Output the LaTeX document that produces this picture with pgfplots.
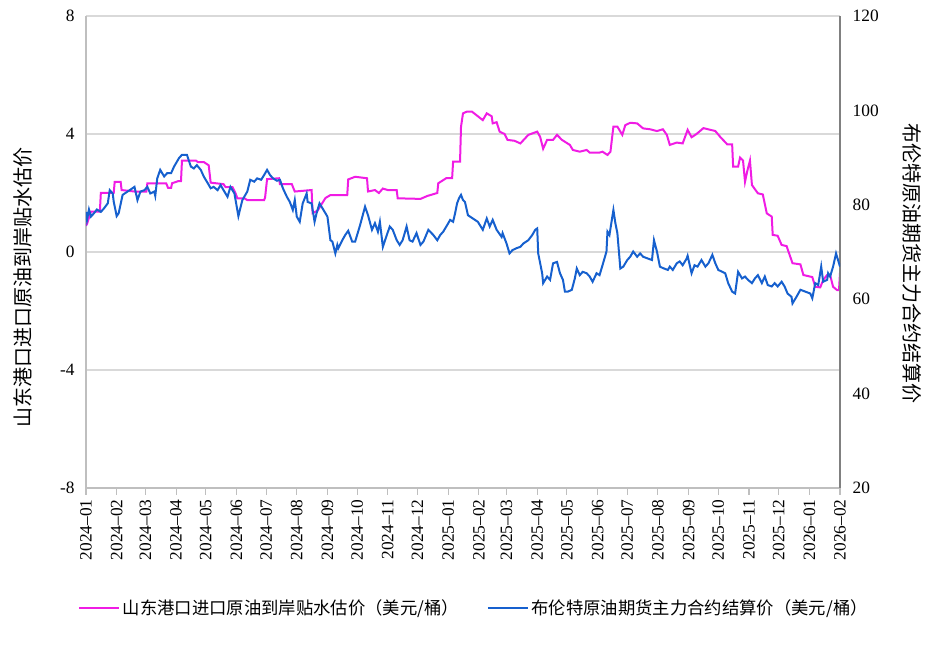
\documentclass[border=0pt]{standalone}
\usepackage{fontspec}
\setmainfont{Liberation Serif}
\newfontfamily\cjk{Noto Sans CJK SC}
\usepackage{pgfplots}
\pgfplotsset{compat=1.18}

\definecolor{magline}{RGB}{240,28,228}
\definecolor{blueline}{RGB}{22,96,206}
\definecolor{gridgray}{RGB}{217,217,217}
\definecolor{axgray}{RGB}{191,191,191}
\definecolor{axdark}{RGB}{128,128,128}

% days counted from 2024-01-01
\pgfplotstableread{
d v
0 0.9
1 0.95
5 1.37
14 1.37
15 2.0
28 2.0
29 2.38
35 2.38
36 2.1
49 2.05
61 2.05
62 2.33
81 2.33
83 2.17
86 2.17
87 2.33
93 2.4
96 2.4
97 3.1
111 3.1
113 3.05
119 3.05
124 2.94
126 2.35
139 2.3
141 2.2
148 2.2
151 2.0
153 1.82
160 1.82
163 1.76
180 1.76
181 1.85
183 2.47
195 2.5
196 2.3
208 2.3
211 2.05
228 2.1
229 1.32
234 1.4
242 1.83
247 1.93
264 1.93
265 2.46
272 2.55
284 2.5
285 2.05
292 2.1
296 2.0
300 2.15
305 2.1
314 2.1
315 1.82
338 1.8
345 1.9
355 2.0
356 2.33
364 2.5
370 2.5
371 3.06
378 3.06
379 4.25
381 4.7
385 4.76
390 4.76
401 4.47
405 4.7
410 4.6
411 4.36
415 4.4
418 4.08
423 4.0
426 3.8
433 3.77
439 3.68
447 3.97
456 4.08
459 3.9
462 3.5
466 3.8
472 3.8
476 3.97
481 3.8
489 3.63
492 3.46
499 3.4
506 3.46
509 3.37
519 3.37
522 3.4
527 3.29
530 3.4
533 4.25
537 4.25
542 3.97
545 4.3
550 4.38
557 4.36
563 4.19
570 4.16
577 4.1
583 4.16
587 3.97
590 3.63
597 3.71
603 3.68
608 4.14
612 3.89
617 4.0
624 4.2
636 4.1
641 3.9
648 3.65
653 3.65
654 2.89
659 2.89
661 3.2
664 3.1
666 2.38
668 2.7
671 3.1
673 2.27
679 1.99
684 1.95
688 1.31
693 1.2
694 0.58
699 0.55
703 0.24
708 0.2
714 -0.38
722 -0.42
725 -0.78
734 -0.85
737 -1.18
742 -1.2
745 -0.95
749 -0.78
752 -0.78
755 -1.18
759 -1.29
761 -1.29
762 -0.7
}\shandong

\pgfplotstableread{
d v
0 78.5
1 76.8
3 79
5 77.5
8 78.2
11 79
15 78.5
18 79.2
22 80.3
24 83.1
27 82.4
28 80.7
31 77.6
33 78.2
37 82.1
42 82.8
49 83.8
52 81.0
55 82.8
59 83.1
62 83.8
65 82.4
69 82.8
70 81.9
72 85.6
75 87.4
79 86.0
82 86.7
86 86.7
89 88.1
94 89.9
97 90.6
102 90.6
106 88.1
109 87.7
112 88.4
116 87.4
119 86.0
123 84.6
126 83.5
129 83.8
133 83.1
136 84.2
139 83.1
143 81.7
146 83.8
150 82.4
154 77.6
158 81.0
163 82.8
166 85.3
170 84.9
173 85.6
177 85.3
180 86.3
183 87.4
186 86.3
189 85.6
193 85.1
196 85.3
199 83.5
203 81.7
206 80.6
209 78.9
211 81.0
213 77.5
216 76.4
219 80.3
223 82.4
224 80.6
228 80.3
231 76.4
233 78.2
236 80.3
240 78.9
244 77.5
247 72.5
249 72.2
252 69.7
254 71.5
255 70.8
259 72.5
262 73.6
265 74.5
269 72.2
272 72.2
277 75.7
282 79.6
285 77.8
289 74.7
292 76.1
295 74.3
297 76.4
300 71.1
304 73.6
307 75.4
310 74.7
314 72.5
317 71.5
320 72.5
324 75.4
327 72.5
330 72.2
334 74.0
338 71.5
341 72.2
346 74.7
351 73.6
355 72.5
358 73.6
361 74.3
365 75.7
368 76.8
371 76.4
373 78.2
375 80.3
377 81.4
379 82.1
381 81.0
383 80.6
386 77.8
391 77.1
396 76.4
401 74.7
405 77.1
408 75.4
411 76.8
415 74.7
420 73.2
421 74.0
425 71.8
428 69.7
431 70.4
435 70.8
439 71.1
442 71.8
447 72.5
451 73.6
454 74.7
456 75.0
457 69.7
461 65.5
462 63.4
466 64.8
469 64.1
472 67.6
476 67.9
479 65.5
482 64.1
484 61.6
487 61.6
491 62.0
494 64.4
496 66.5
499 65.1
502 65.8
506 65.5
509 64.8
512 63.7
516 65.5
519 65.1
522 67.2
526 70.1
527 74.3
529 73.6
533 78.9
535 76.1
537 74.0
540 66.5
543 66.9
547 68.3
550 69.0
553 70.1
557 69.0
560 69.7
563 69.0
568 68.6
572 68.3
574 72.5
577 70.1
580 66.9
583 66.6
588 66.2
590 66.9
593 66.2
597 67.6
600 68.0
603 67.2
607 68.6
608 69.2
612 65.5
615 67.2
618 66.9
622 68.3
626 66.9
629 67.6
633 69.4
636 67.6
639 66.2
646 65.5
649 63.4
653 61.6
656 61.2
659 65.8
663 64.4
666 64.8
669 64.1
673 63.4
676 64.4
679 65.1
683 63.4
686 64.8
689 63.0
693 62.7
696 63.4
699 62.7
703 63.7
706 62.7
709 61.2
713 60.5
714 59.1
718 60.5
722 62.0
727 61.6
732 61.2
734 60.2
737 63.4
740 63.0
743 66.9
745 63.7
749 64.1
750 65.5
752 64.8
755 66.9
758 69.7
760 68.3
762 66.9
}\brent

\begin{document}
\begin{tikzpicture}
\useasboundingbox (-64.5pt,-129.75pt) rectangle (639.75pt,366pt);

\begin{axis}[
  width=565.5pt, height=354pt, scale only axis,
  clip mode=individual,
  xmin=0, xmax=762, ymin=-8, ymax=8,
  axis x line*=bottom, axis y line*=left,
  axis line style={draw=axgray, line width=0.8pt},
  xtick={0,31,60,91,121,152,182,213,244,274,305,335,366,397,425,456,486,517,547,578,609,639,670,700,731,762},
  xticklabels={2024--01,2024--02,2024--03,2024--04,2024--05,2024--06,2024--07,2024--08,2024--09,2024--10,2024--11,2024--12,2025--01,2025--02,2025--03,2025--04,2025--05,2025--06,2025--07,2025--08,2025--09,2025--10,2025--11,2025--12,2026--01,2026--02},
  xticklabel style={rotate=90, anchor=east, font=\fontsize{13}{15}\selectfont},
  xtick style={draw=axgray, line width=0.8pt},
  tick align=outside, major tick length=5pt,
  ytick={-8,-4,0,4,8},
  yticklabel style={font=\fontsize{13}{15}\selectfont},
  ytick style={draw=none},
  /pgf/number format/assume math mode=true,
  ymajorgrids, grid style={draw=gridgray, line width=0.9pt},
  legend style={at={(axis description cs:0.515,-0.254)}, anchor=center,
    draw=none, fill=none, font=\fontsize{13}{15}\selectfont\cjk,
    legend columns=2, /tikz/every even column/.append style={column sep=19pt}},
  legend image code/.code={\draw[#1] (0pt,0pt) -- (30pt,0pt);},
]
\addplot[magline, line width=1.5pt] table[x=d, y=v] {\shandong};
\addlegendentry{山东港口进口原油到岸贴水估价（美元/桶）}
\addlegendimage{blueline, line width=1.5pt}
\addlegendentry{布伦特原油期货主力合约结算价（美元/桶）}
\node[rotate=90, anchor=center, font=\fontsize{15}{17}\selectfont\cjk]
  at (axis description cs:-0.0835,0.425) {山东港口进口原油到岸贴水估价};
\end{axis}

\begin{axis}[
  width=565.5pt, height=354pt, scale only axis,
  clip mode=individual,
  xmin=0, xmax=762, ymin=20, ymax=120,
  axis x line=none, axis y line*=right,
  axis line style={draw=axdark, line width=0.9pt},
  ytick={20,40,60,80,100,120},
  yticklabel style={font=\fontsize{13}{15}\selectfont, xshift=6pt},
  ytick style={draw=none},
  /pgf/number format/assume math mode=true,
]
\addplot[blueline, line width=1.5pt] table[x=d, y=v] {\brent};
\node[rotate=-90, anchor=center, font=\fontsize{15}{17}\selectfont\cjk]
  at (axis description cs:1.0955,0.475) {布伦特原油期货主力合约结算价};
\end{axis}
\end{tikzpicture}
\end{document}
